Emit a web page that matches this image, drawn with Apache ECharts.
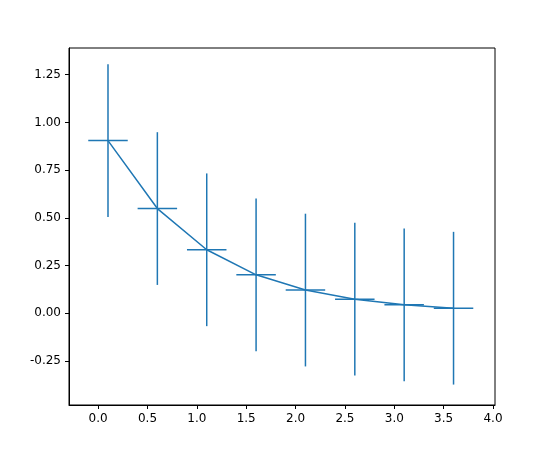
<!DOCTYPE html>
<html><head><meta charset="utf-8">
<script src="https://cdn.jsdelivr.net/npm/echarts@6/dist/echarts.min.js"></script>
<style>html,body{margin:0;background:#fff}#c{width:550px;height:450px}</style>
</head><body><div id="c"></div>
<script>
// data
const xs = [0.1, 0.6, 1.1, 1.6, 2.1, 2.6, 3.1, 3.6];
const ys = [0.905, 0.549, 0.333, 0.202, 0.122, 0.074, 0.045, 0.027];
const xErr = [0.2, 0.2, 0.2, 0.2, 0.2, 0.2, 0.2, 0.2];
const yErr = [0.4, 0.4, 0.4, 0.4, 0.4, 0.4, 0.4, 0.4];
const xTicks = [0, 0.5, 1, 1.5, 2, 2.5, 3, 3.5, 4];
const yTicks = [-0.25, 0, 0.25, 0.5, 0.75, 1, 1.25];

const color = '#1f77b4';
const chart = echarts.init(document.getElementById('c'));

function axis(min, max, ticks, fmt) {
  return {
    type: 'value', min: min, max: max,
    axisLine: { show: true, onZero: false, lineStyle: { color: '#000' } },
    axisTick: { show: true, customValues: ticks, length: 4, lineStyle: { color: '#000' } },
    axisLabel: { customValues: ticks, color: '#000', fontSize: 12, fontFamily: 'DejaVu Sans', formatter: fmt },
    splitLine: { show: false }
  };
}

chart.setOption({
  animation: false,
  grid: { left: 69, right: 55, top: 48, bottom: 45, show: true, borderColor: '#000', borderWidth: 1 },
  xAxis: axis(-0.295, 4.02, xTicks, v => v.toFixed(1)),
  yAxis: axis(-0.48, 1.39, yTicks, v => v.toFixed(2)),
  series: [
    {
      type: 'line', data: xs.map((x, i) => [x, ys[i]]),
      showSymbol: false, lineStyle: { color: color, width: 1.5 }, itemStyle: { color: color }
    },
    {
      type: 'custom',
      data: xs.map((x, i) => [x, ys[i], xErr[i], yErr[i]]),
      renderItem: function (params, api) {
        const x = api.value(0), y = api.value(1), dx = api.value(2), dy = api.value(3);
        const l = api.coord([x - dx, y]), r = api.coord([x + dx, y]);
        const t = api.coord([x, y + dy]), b = api.coord([x, y - dy]);
        const st = { stroke: color, lineWidth: 1.5 };
        return { type: 'group', children: [
          { type: 'line', shape: { x1: l[0], y1: l[1], x2: r[0], y2: r[1] }, style: st },
          { type: 'line', shape: { x1: t[0], y1: t[1], x2: b[0], y2: b[1] }, style: st }
        ] };
      }
    }
  ]
});
</script></body></html>
